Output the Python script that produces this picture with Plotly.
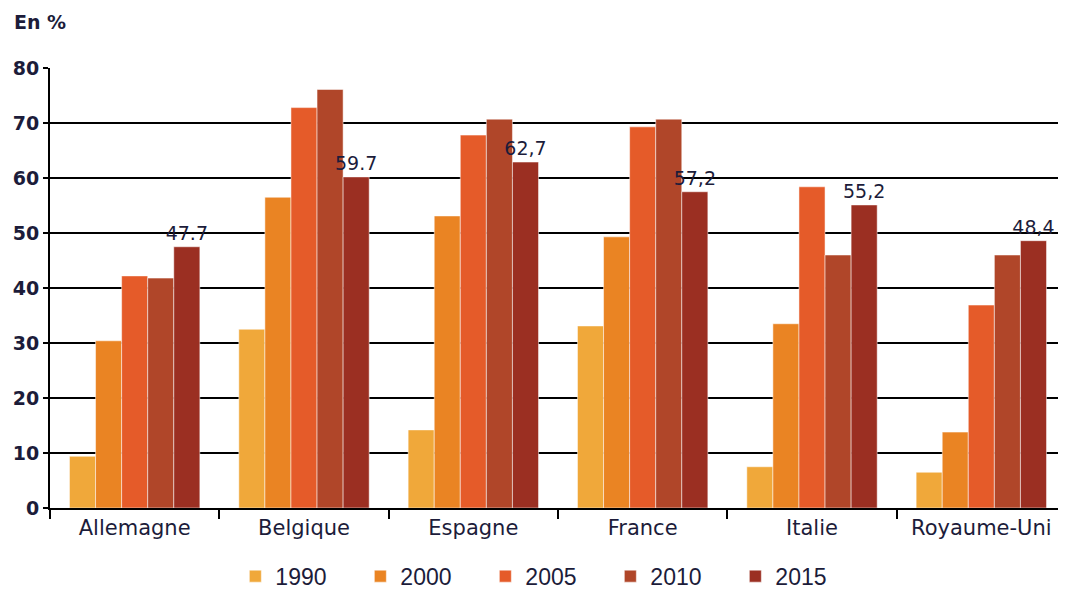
import plotly.graph_objects as go

pays = ["Allemagne", "Belgique", "Espagne", "France", "Italie", "Royaume-Uni"]
annees = ["1990", "2000", "2005", "2010", "2015"]

v1990 = [9.4, 32.5, 14.2, 33.1, 7.5, 6.5]
v2000 = [30.4, 56.5, 53.1, 49.3, 33.5, 13.8]
v2005 = [42.2, 72.8, 67.8, 69.3, 58.4, 36.9]
v2010 = [41.8, 76.1, 70.7, 70.7, 46.0, 46.0]
v2015 = [47.5, 60.2, 62.9, 57.5, 55.1, 48.6]
labels_2015 = ["47.7", "59.7", "62,7", "57,2", "55,2", "48,4"]

couleurs = ["#F0A83A", "#EA8423", "#E55B29", "#B04629", "#9B2F22"]
series = [v1990, v2000, v2005, v2010, v2015]

TXT = "#1c1c3a"

fig = go.Figure()

for annee, vals, col in zip(annees, series, couleurs):
    is_last = annee == "2015"
    fig.add_trace(
        go.Bar(
            x=pays,
            y=vals,
            name=annee,
            marker=dict(color=col, line=dict(color="rgba(255,255,255,0.5)", width=1)),
            text=labels_2015 if is_last else None,
            textposition="outside" if is_last else "none",
            constraintext="none",
            textfont=dict(family="DejaVu Sans", size=19, color=TXT),
            cliponaxis=False,
        )
    )

# the page adds an 8px body margin, so the figure is a bit smaller than the window
fig.update_layout(
    width=1058,
    height=583,
    barmode="group",
    bargap=0.23,
    bargroupgap=0,
    plot_bgcolor="white",
    paper_bgcolor="white",
    margin=dict(l=42, r=0, t=60, b=83, autoexpand=False),
    font=dict(family="DejaVu Sans", color=TXT),
    legend=dict(
        orientation="h",
        x=0.49,
        xanchor="center",
        y=-0.155,
        yanchor="middle",
        font=dict(family="Liberation Sans", size=23, color=TXT),
        itemwidth=30,
        entrywidth=80,
        entrywidthmode="pixels",
        traceorder="normal",
    ),
    annotations=[
        dict(
            text="<b>En %</b>",
            xref="paper",
            yref="paper",
            x=-0.037,
            y=1.104,
            xanchor="left",
            yanchor="middle",
            showarrow=False,
            font=dict(family="DejaVu Sans", size=19, color=TXT),
        )
    ],
)

fig.update_xaxes(
    automargin=False,
    showline=True,
    linecolor="black",
    linewidth=2,
    ticks="outside",
    tickson="boundaries",
    ticklen=9,
    tickwidth=2,
    tickcolor="black",
    tickfont=dict(family="DejaVu Sans", size=21, color=TXT),
    showgrid=False,
)

fig.update_yaxes(
    automargin=False,
    range=[0, 80],
    tickvals=[0, 10, 20, 30, 40, 50, 60, 70, 80],
    showline=True,
    linecolor="black",
    linewidth=2,
    ticks="outside",
    ticklen=5,
    tickwidth=2,
    tickcolor="black",
    showgrid=True,
    gridcolor="black",
    gridwidth=2,
    zeroline=False,
    tickfont=dict(family="DejaVu Sans", size=19, color=TXT, weight="bold"),
)

fig.write_html("out.html")
